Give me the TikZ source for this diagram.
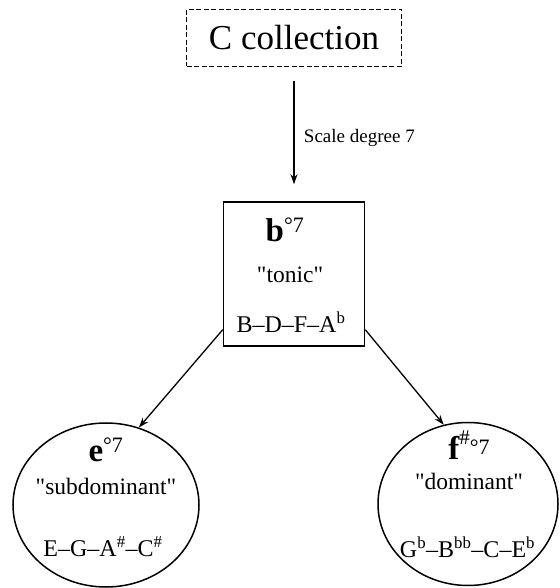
\documentclass[tikz,border=0pt]{standalone}
\usepackage{fontspec}
\setmainfont{Liberation Serif}[Ligatures=TeXOff]
\usetikzlibrary{shapes.geometric,arrows.meta}
\tikzset{
  collbox/.style={draw,line width=1.3pt,dash pattern=on 5pt off 2.5pt,minimum width=215pt,minimum height=57pt,inner sep=0pt},
  chordbox/.style={draw,line width=1.5pt,minimum width=141pt,minimum height=144pt},
  chordoval/.style={draw,ellipse,line width=1.5pt,inner sep=0pt},
  chord/.style={anchor=base,font=\fontsize{33}{36}\selectfont\bfseries},
  func/.style={anchor=base,font=\fontsize{23.5}{26}\selectfont},
  notes/.style={anchor=base,font=\fontsize{24}{26}\selectfont},
  move/.style={-{Stealth[length=10pt,width=7pt]},line width=1.3pt}
}
\newcommand{\dimseven}{\textsuperscript{\mdseries\fontsize{22}{22}\selectfont °7}}
\newcommand{\fl}{\textsuperscript{b}}
\newcommand{\shp}{\textsuperscript{\#}}
\begin{document}
\begin{tikzpicture}[x=1pt,y=1pt]
    \useasboundingbox (0,0) rectangle (559,588);
    \node[collbox] (coll) at (294,550) {\fontsize{35}{40}\selectfont C collection};
    \node[chordbox] (tonic) at (294,314) {};
    \node[chordoval,minimum width=186pt,minimum height=164pt] (subdom) at (106,83) {};
    \node[chordoval,minimum width=180pt,minimum height=163pt] (dom) at (468,84) {};
    % tonic
    \node[chord] (bdim) at (285,346) {b\dimseven};
    \node[func] (tonname) at (290,305) {"tonic"};
    \node[notes] (tonnotes) at (291,255) {B–D–F–A\fl};
    % subdominant
    \node[chord] (edim) at (106,126) {e\dimseven};
    \node[func] (subname) at (106,93) {"subdominant"};
    \node[notes] (subnotes) at (103,31) {E–G–A\shp–C\shp};
    % dominant
    \node[chord] (fdim) at (469,128) {f\raisebox{15pt}{\mdseries\fontsize{21}{21}\selectfont\#}\raisebox{5pt}{\mdseries\fontsize{22}{22}\selectfont °7}};
    \node[func] (domname) at (469,98) {"dominant"};
    \node[notes] (domnotes) at (467.5,30) {G\fl–B\textsuperscript{bb}–C–E\fl};
    % arrows
    \draw[move,shorten <=13.5pt,shorten >=17pt] (coll) -- (tonic)
      node[midway,right=6pt,yshift=-4pt,font=\fontsize{19}{21}\selectfont] (deg) {Scale degree 7};
    \draw[move] (tonic.218) -- (subdom.67);
    \draw[move] (tonic.322) -- (dom.107);
\end{tikzpicture}
\end{document}
